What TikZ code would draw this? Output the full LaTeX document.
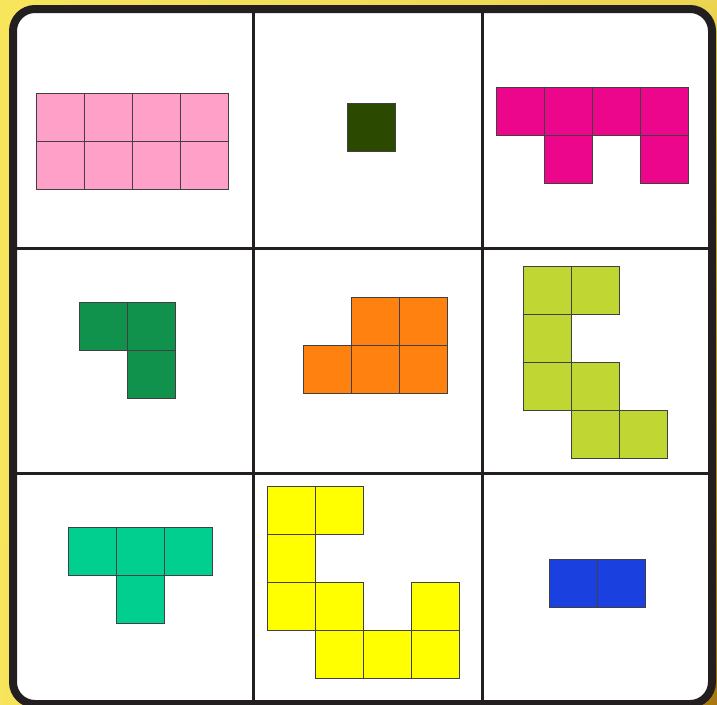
\documentclass[tikz,border=0pt]{standalone}
\usetikzlibrary{shadings}
\definecolor{bgyel}{HTML}{F7E55C}
\definecolor{bgbrown}{HTML}{A87810}
\definecolor{framecol}{HTML}{231F20}
\definecolor{cpink}{HTML}{FFA0C8}
\definecolor{cdkgreen}{HTML}{2B4A00}
\definecolor{cmagenta}{HTML}{EC068C}
\definecolor{cgreen}{HTML}{10924C}
\definecolor{corange}{HTML}{FF8210}
\definecolor{cyg}{HTML}{C0D632}
\definecolor{cteal}{HTML}{00CF90}
\definecolor{cyellow}{HTML}{FFFF00}
\definecolor{cblue}{HTML}{1A40E0}
\tikzset{
  sq/.style={draw=black!75, line width=0.8pt},
  gridline/.style={draw=framecol, line width=3pt},
}
\newcommand{\cells}[2]{\foreach \x/\y in {#2} {\fill[#1] (\x,\y) rectangle ++(48,48); \draw[sq] (\x,\y) rectangle ++(48,48);}}
\begin{document}
\begin{tikzpicture}[x=1pt,y=-1pt]
\useasboundingbox (0,0) rectangle (717,704);
\shade[upper left=bgyel, upper right=bgyel!85!bgbrown, lower left=bgyel, lower right=bgbrown] (0,0) rectangle (717,704);
\fill[white, rounded corners=22pt] (13,9) rectangle (712,704);
% grid
\draw[gridline] (253,9) -- (253,703);
\draw[gridline] (482,9) -- (482,703);
\draw[gridline] (13,248) -- (712,248);
\draw[gridline] (13,473) -- (712,473);
% pieces
\cells{cpink}{36/93,84/93,132/93,180/93,36/141,84/141,132/141,180/141}
\cells{cdkgreen}{347/103}
\cells{cmagenta}{496/87,544/87,592/87,640/87,544/135,640/135}
\cells{cgreen}{79/302,127/302,127/350}
\cells{corange}{351/297,399/297,303/345,351/345,399/345}
\cells{cyg}{523/266,571/266,523/314,523/362,571/362,571/410,619/410}
\cells{cteal}{68/527,116/527,164/527,116/575}
\cells{cyellow}{267/486,315/486,267/534,267/582,315/582,411/582,315/630,363/630,411/630}
\cells{cblue}{549/559,597/559}
% frame
\draw[framecol, line width=8pt, rounded corners=22pt] (13,9) rectangle (712,704);
\end{tikzpicture}
\end{document}
